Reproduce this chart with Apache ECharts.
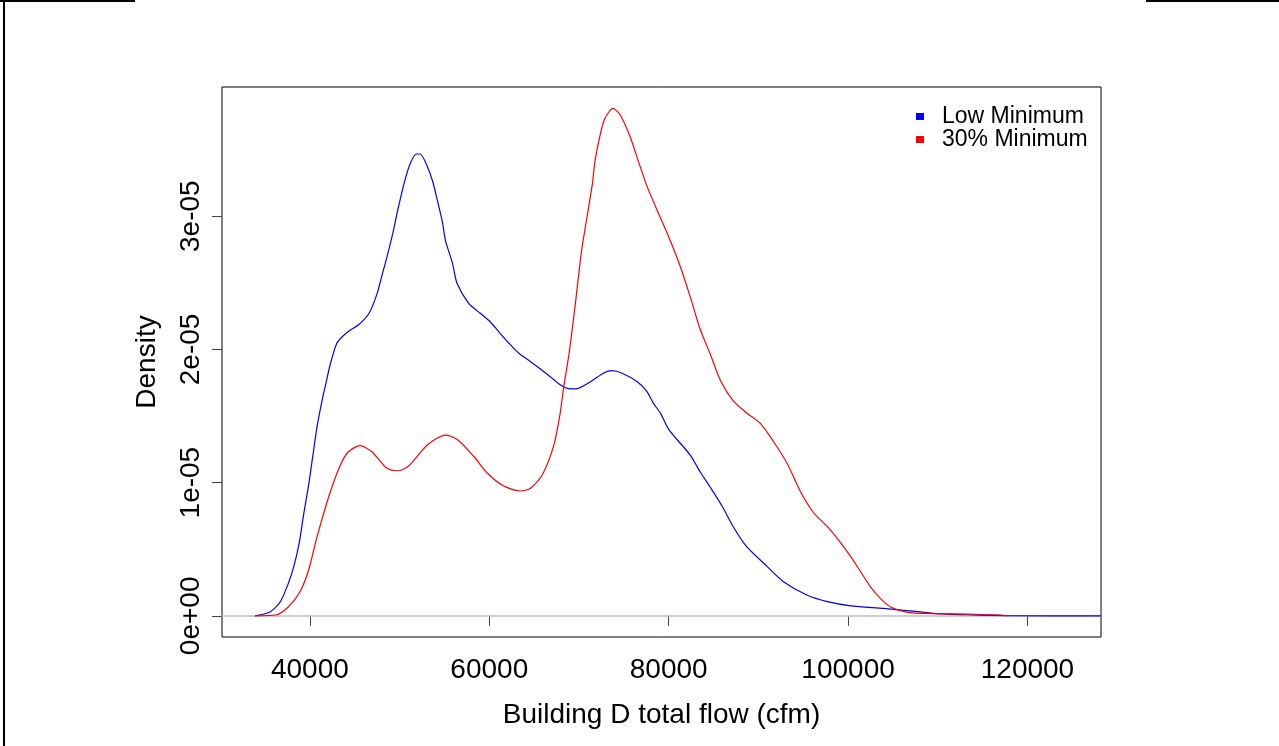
<!DOCTYPE html>
<html>
<head>
<meta charset="utf-8">
<script src="https://cdn.jsdelivr.net/npm/echarts@6/dist/echarts.min.js"></script>
<style>
html,body{margin:0;padding:0;background:#fff;}
#c{width:1279px;height:746px;}
</style>
</head>
<body>
<div id="c"></div>
<script>
// Flow values (cfm) and density values for "Low Minimum"
const flowLow = [33900,35600,36700,37600,38200,38800,39300,39900,40300,40800,41400,41800,42300,43000,43600,44500,45400,46600,47500,48000,48600,49200,49800,50500,51200,51900,52300,53100,53700,54200,54800,55100,55900,56400,57700,59000,60100,61200,62200,63300,64600,65700,66800,67700,68700,69600,71300,72800,73700,74800,76500,77600,78300,79100,80000,82400,83500,84600,86000,87200,88700,91000,92800,95400,97700,100300,104000,105800,109500,113300,117700,128200];
const densityLow = [0,0.031e-5,0.106e-5,0.244e-5,0.369e-5,0.544e-5,0.760e-5,1.000e-5,1.190e-5,1.420e-5,1.630e-5,1.750e-5,1.896e-5,2.046e-5,2.095e-5,2.146e-5,2.183e-5,2.271e-5,2.421e-5,2.546e-5,2.696e-5,2.859e-5,3.047e-5,3.247e-5,3.397e-5,3.467e-5,3.467e-5,3.372e-5,3.259e-5,3.122e-5,2.947e-5,2.821e-5,2.646e-5,2.496e-5,2.346e-5,2.271e-5,2.208e-5,2.121e-5,2.046e-5,1.971e-5,1.908e-5,1.853e-5,1.795e-5,1.745e-5,1.708e-5,1.703e-5,1.758e-5,1.825e-5,1.840e-5,1.821e-5,1.758e-5,1.682e-5,1.595e-5,1.520e-5,1.400e-5,1.207e-5,1.082e-5,0.969e-5,0.819e-5,0.669e-5,0.519e-5,0.369e-5,0.256e-5,0.156e-5,0.106e-5,0.074e-5,0.056e-5,0.044e-5,0.019e-5,0.008e-5,0.001e-5,0];

// Flow values (cfm) and density values for "30% Minimum"
const flow30 = [33900,36200,37500,38800,39800,40800,42100,43400,44300,45600,46900,48600,49900,51000,53100,55100,56400,58300,59800,61600,63500,64600,65900,67200,67900,68300,68900,69600,70300,70900,71500,71800,72400,72900,73800,74600,75700,76700,77600,78700,80000,81300,82400,83500,84600,85800,87200,88700,90200,91700,93200,94700,96200,97700,99100,100300,101400,102500,103600,104700,106600,109500,113300,117000,117700];
const density30 = [0,0.006e-5,0.061e-5,0.169e-5,0.331e-5,0.594e-5,0.894e-5,1.132e-5,1.232e-5,1.277e-5,1.232e-5,1.107e-5,1.089e-5,1.125e-5,1.282e-5,1.357e-5,1.325e-5,1.194e-5,1.070e-5,0.974e-5,0.937e-5,0.957e-5,1.057e-5,1.282e-5,1.520e-5,1.720e-5,1.971e-5,2.346e-5,2.746e-5,2.996e-5,3.247e-5,3.422e-5,3.622e-5,3.735e-5,3.810e-5,3.760e-5,3.597e-5,3.397e-5,3.222e-5,3.047e-5,2.846e-5,2.621e-5,2.396e-5,2.153e-5,1.971e-5,1.763e-5,1.613e-5,1.523e-5,1.447e-5,1.307e-5,1.145e-5,0.932e-5,0.770e-5,0.669e-5,0.556e-5,0.444e-5,0.331e-5,0.218e-5,0.131e-5,0.068e-5,0.026e-5,0.017e-5,0.012e-5,0.006e-5,0];

const seriesNames = ['Low Minimum', '30% Minimum'];
const xTicks = [40000, 60000, 80000, 100000, 120000];
const yTicks = [0, 1e-5, 2e-5, 3e-5];
const yTickLabels = ['0e+00', '1e-05', '2e-05', '3e-05'];

const FONT = 'Liberation Sans, Arial, Helvetica, sans-serif';
const zip = (xs, ys) => xs.map((x, i) => [x, ys[i]]);

const chart = echarts.init(document.getElementById('c'), null, {renderer: 'canvas'});
chart.setOption({
  backgroundColor: '#ffffff',
  animation: false,
  textStyle: {fontFamily: FONT},
  grid: {
    left: 222, right: 178, top: 87, bottom: 109,
    show: true, borderColor: '#000', borderWidth: 1, backgroundColor: 'transparent'
  },
  legend: {
    orient: 'vertical',
    left: 911, top: 100,
    icon: 'rect', itemWidth: 8, itemHeight: 7, itemGap: 0,
    textStyle: {fontSize: 23, color: '#000', fontFamily: FONT, lineHeight: 23, padding: [0, 0, 0, 13]},
    data: seriesNames
  },
  xAxis: {
    type: 'value', min: 30200, max: 128200,
    name: 'Building D total flow (cfm)', nameLocation: 'middle', nameGap: 64,
    nameTextStyle: {fontSize: 28, color: '#000', fontFamily: FONT},
    axisLine: {show: false},
    axisTick: {show: true, length: 10, lineStyle: {color: '#444', width: 1}, customValues: xTicks},
    axisLabel: {fontSize: 28, color: '#000', margin: 19, fontFamily: FONT, customValues: xTicks,
      formatter: v => String(v)},
    splitLine: {show: false}
  },
  yAxis: {
    type: 'value', min: -1.59e-6, max: 3.97e-5,
    name: 'Density', nameLocation: 'middle', nameGap: 61, nameRotate: 90,
    nameTextStyle: {fontSize: 28, color: '#000', fontFamily: FONT},
    axisLine: {show: false},
    axisTick: {show: true, length: 10, lineStyle: {color: '#444', width: 1}, customValues: yTicks},
    axisLabel: {fontSize: 28, color: '#000', margin: 17, rotate: 90, fontFamily: FONT, customValues: yTicks,
      formatter: v => { const i = yTicks.findIndex(t => Math.abs(t - v) < 1e-9); return i >= 0 ? yTickLabels[i] : ''; }},
    splitLine: {show: false}
  },
  series: [
    {
      name: seriesNames[0], type: 'line', data: zip(flowLow, densityLow),
      showSymbol: false, symbol: 'none', smooth: 0.25, z: 3,
      itemStyle: {color: '#0000FF'},
      lineStyle: {color: '#0000FF', width: 1.2},
      markLine: {
        silent: true, symbol: ['none', 'none'], label: {show: false}, z: 1,
        lineStyle: {color: '#BEBEBE', width: 1.5, type: 'solid'},
        data: [{yAxis: 0}]
      }
    },
    {
      name: seriesNames[1], type: 'line', data: zip(flow30, density30),
      showSymbol: false, symbol: 'none', smooth: 0.25, z: 4,
      itemStyle: {color: '#FF0000'},
      lineStyle: {color: '#FF0000', width: 1.2}
    }
  ],
  graphic: [
    {type: 'line', shape: {x1: 0, y1: 1, x2: 135, y2: 1}, style: {stroke: '#000', lineWidth: 2}, silent: true},
    {type: 'line', shape: {x1: 1146, y1: 1, x2: 1279, y2: 1}, style: {stroke: '#000', lineWidth: 2}, silent: true},
    {type: 'line', shape: {x1: 4, y1: 0, x2: 4, y2: 746}, style: {stroke: '#000', lineWidth: 2}, silent: true}
  ]
});
</script>
</body>
</html>
